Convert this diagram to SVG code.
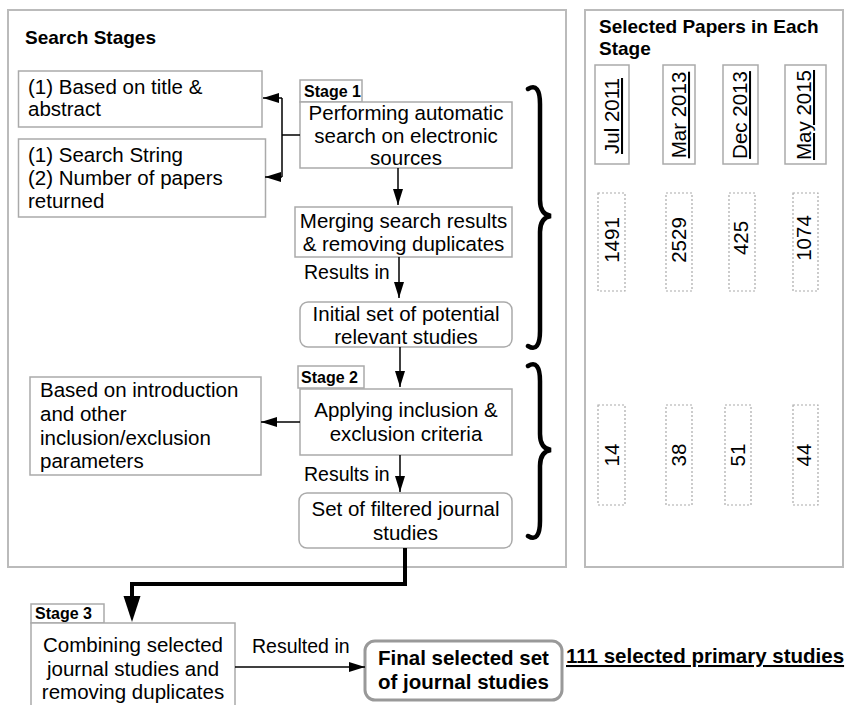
<svg xmlns="http://www.w3.org/2000/svg" width="859" height="705" viewBox="0 0 859 705">
  <style>
    text { font-family: "Liberation Sans", Arial, sans-serif; fill: #000; }
    .t { font-size: 20.5px; }
    .c { text-anchor: middle; }
    .lbl { font-size: 19.5px; }
    .h { font-size: 19px; font-weight: bold; }
    .stg { font-size: 16px; font-weight: bold; }
    .bold { font-size: 20.5px; font-weight: bold; }
    .box { fill: #fff; stroke: #aaa; stroke-width: 1.5; }
    .panel { fill: #fff; stroke: #bbb; stroke-width: 2; }
    .dot { fill: #fff; stroke: #aaa; stroke-width: 1.2; stroke-dasharray: 2 2; }
    .ln { fill: none; stroke: #000; stroke-width: 1.5; }
    .brace { fill: none; stroke: #000; stroke-width: 4.5; stroke-linecap: round; }
    .u { text-decoration: underline; }
  </style>
  <defs>
    <marker id="arr" markerUnits="userSpaceOnUse" markerWidth="16" markerHeight="10" refX="16" refY="5" orient="auto">
      <path d="M0,0 L16,5 L0,10 z" fill="#000"/>
    </marker>
  </defs>

  <rect width="859" height="705" fill="#fff"/>

  <!-- panels -->
  <g id="panel-search">
    <rect class="panel" x="8" y="10" width="558" height="557"/>
    <text class="h" x="25" y="44">Search Stages</text>
  </g>
  <g id="panel-selected">
    <rect class="panel" x="585" y="10" width="258" height="557"/>
    <text class="h" x="599" y="33">Selected Papers in Each</text>
    <text class="h" x="599" y="55">Stage</text>
  </g>

  <!-- stage 1 -->
  <g id="note-title-abstract">
    <rect class="box" x="18.5" y="71" width="243.5" height="56"/>
    <text class="t" x="28" y="94">(1) Based on title &amp;</text>
    <text class="t" x="28" y="116">abstract</text>
  </g>
  <g id="note-search-string">
    <rect class="box" x="18.5" y="139" width="247" height="78"/>
    <text class="t" x="28" y="162">(1) Search String</text>
    <text class="t" x="28" y="185">(2) Number of papers</text>
    <text class="t" x="28" y="208">returned</text>
  </g>
  <g id="stage1-label">
    <rect class="box" x="300" y="80" width="62" height="22"/>
    <text class="stg" x="304" y="97">Stage 1</text>
  </g>
  <g id="auto-search">
    <rect class="box" x="300" y="102" width="212" height="66"/>
    <text class="t c" x="406" y="120">Performing automatic</text>
    <text class="t c" x="406" y="143">search on electronic</text>
    <text class="t c" x="406" y="165">sources</text>
  </g>
  <g id="merge">
    <rect class="box" x="295" y="207" width="217" height="50"/>
    <text class="t c" x="403.5" y="228">Merging search results</text>
    <text class="t c" x="403.5" y="251">&amp; removing duplicates</text>
  </g>
  <g id="initial-set">
    <rect class="box" x="300" y="302" width="212" height="45" rx="8"/>
    <text class="t c" x="406" y="321">Initial set of potential</text>
    <text class="t c" x="406" y="344">relevant studies</text>
  </g>

  <!-- stage 2 -->
  <g id="stage2-label">
    <rect class="box" x="298" y="366" width="66" height="22"/>
    <text class="stg" x="301" y="383">Stage 2</text>
  </g>
  <g id="criteria">
    <rect class="box" x="300" y="389" width="212" height="66"/>
    <text class="t c" x="406" y="417">Applying inclusion &amp;</text>
    <text class="t c" x="406" y="441">exclusion criteria</text>
  </g>
  <g id="note-introduction">
    <rect class="box" x="30" y="377" width="231" height="98"/>
    <text class="t" x="40" y="397">Based on introduction</text>
    <text class="t" x="40" y="421">and other</text>
    <text class="t" x="40" y="445">inclusion/exclusion</text>
    <text class="t" x="40" y="468">parameters</text>
  </g>
  <g id="filtered-set">
    <rect class="box" x="299" y="493" width="213" height="55" rx="8"/>
    <text class="t c" x="405.5" y="516">Set of filtered journal</text>
    <text class="t c" x="405.5" y="540">studies</text>
  </g>

  <!-- stage 3 -->
  <g id="stage3-label">
    <rect class="box" x="31" y="604" width="73" height="19"/>
    <text class="stg" x="35" y="619">Stage 3</text>
  </g>
  <g id="combine">
    <rect class="box" x="31" y="623" width="204" height="90"/>
    <text class="t c" x="133" y="652">Combining selected</text>
    <text class="t c" x="133" y="676">journal studies and</text>
    <text class="t c" x="133" y="699">removing duplicates</text>
  </g>
  <g id="final-set">
    <rect x="365" y="641" width="197" height="59" rx="10" fill="#fff" stroke="#999" stroke-width="3"/>
    <text class="bold c" x="463.5" y="665">Final selected set</text>
    <text class="bold c" x="463.5" y="689">of journal studies</text>
  </g>
  <g id="primary-studies">
    <text class="bold u" x="566" y="663">111 selected primary studies</text>
  </g>

  <!-- per-search counts -->
  <g id="date-jul2011">
    <rect class="box" x="595" y="65" width="34" height="99"/>
    <text class="t c u" transform="translate(619,116) rotate(-90)">Jul 2011</text>
  </g>
  <g id="date-mar2013">
    <rect class="box" x="663" y="65" width="32" height="99"/>
    <text class="t c u" transform="translate(686,115) rotate(-90)">Mar 2013</text>
  </g>
  <g id="date-dec2013">
    <rect class="box" x="723" y="65" width="35" height="99"/>
    <text class="t c u" transform="translate(747,115) rotate(-90)">Dec 2013</text>
  </g>
  <g id="date-may2015">
    <rect class="box" x="785" y="65" width="41" height="99"/>
    <text class="t c u" transform="translate(811,115) rotate(-90)">May 2015</text>
  </g>

  <g id="count-1491">
    <rect class="dot" x="598" y="193" width="27" height="98"/>
    <text class="t c" transform="translate(619,240) rotate(-90)">1491</text>
  </g>
  <g id="count-2529">
    <rect class="dot" x="666" y="193" width="26" height="98"/>
    <text class="t c" transform="translate(686,240) rotate(-90)">2529</text>
  </g>
  <g id="count-425">
    <rect class="dot" x="729" y="193" width="26" height="98"/>
    <text class="t c" transform="translate(748,238) rotate(-90)">425</text>
  </g>
  <g id="count-1074">
    <rect class="dot" x="793" y="193" width="25" height="98"/>
    <text class="t c" transform="translate(811,238) rotate(-90)">1074</text>
  </g>
  <g id="count-14">
    <rect class="dot" x="598" y="405" width="27" height="100"/>
    <text class="t c" transform="translate(619,455) rotate(-90)">14</text>
  </g>
  <g id="count-38">
    <rect class="dot" x="666" y="405" width="26" height="100"/>
    <text class="t c" transform="translate(686,455) rotate(-90)">38</text>
  </g>
  <g id="count-51">
    <rect class="dot" x="725" y="405" width="26" height="100"/>
    <text class="t c" transform="translate(745,455) rotate(-90)">51</text>
  </g>
  <g id="count-44">
    <rect class="dot" x="793" y="405" width="25" height="100"/>
    <text class="t c" transform="translate(811,455) rotate(-90)">44</text>
  </g>

  <!-- connectors -->
  <g id="connectors">
    <path class="ln" d="M300,135 H282 M282,98 V177"/>
    <path class="ln" d="M282,98 H263" marker-end="url(#arr)"/>
    <path class="ln" d="M282,177 H265" marker-end="url(#arr)"/>
    <path class="ln" d="M398,168 V205" marker-end="url(#arr)"/>
    <path class="ln" d="M399,257 V298" marker-end="url(#arr)"/>
    <text class="lbl" x="304" y="279">Results in</text>
    <path class="ln" d="M400,347 V387" marker-end="url(#arr)"/>
    <path class="ln" d="M300,422 H261" marker-end="url(#arr)"/>
    <path class="ln" d="M400,455 V492" marker-end="url(#arr)"/>
    <text class="lbl" x="304" y="481">Results in</text>
    <path d="M405,548 V584 H132 V598" fill="none" stroke="#000" stroke-width="4"/>
    <path d="M123.5,596 L140.5,596 L132,622 z" fill="#000"/>
    <path class="ln" d="M235,667 H365" marker-end="url(#arr)"/>
    <text class="lbl" x="252" y="653">Resulted in</text>
    <path class="brace" d="M528,89 C536,84 540,90 540,104 L540,200 C540,210 544,215 551,216 C544,217 540,222 540,232 L540,331 C540,345 536,351 528,346"/>
    <path class="brace" d="M528,366 C536,361 540,367 540,381 L540,434 C540,444 544,449 551,450 C544,451 540,456 540,466 L540,521 C540,535 536,541 528,536"/>
  </g>
</svg>
